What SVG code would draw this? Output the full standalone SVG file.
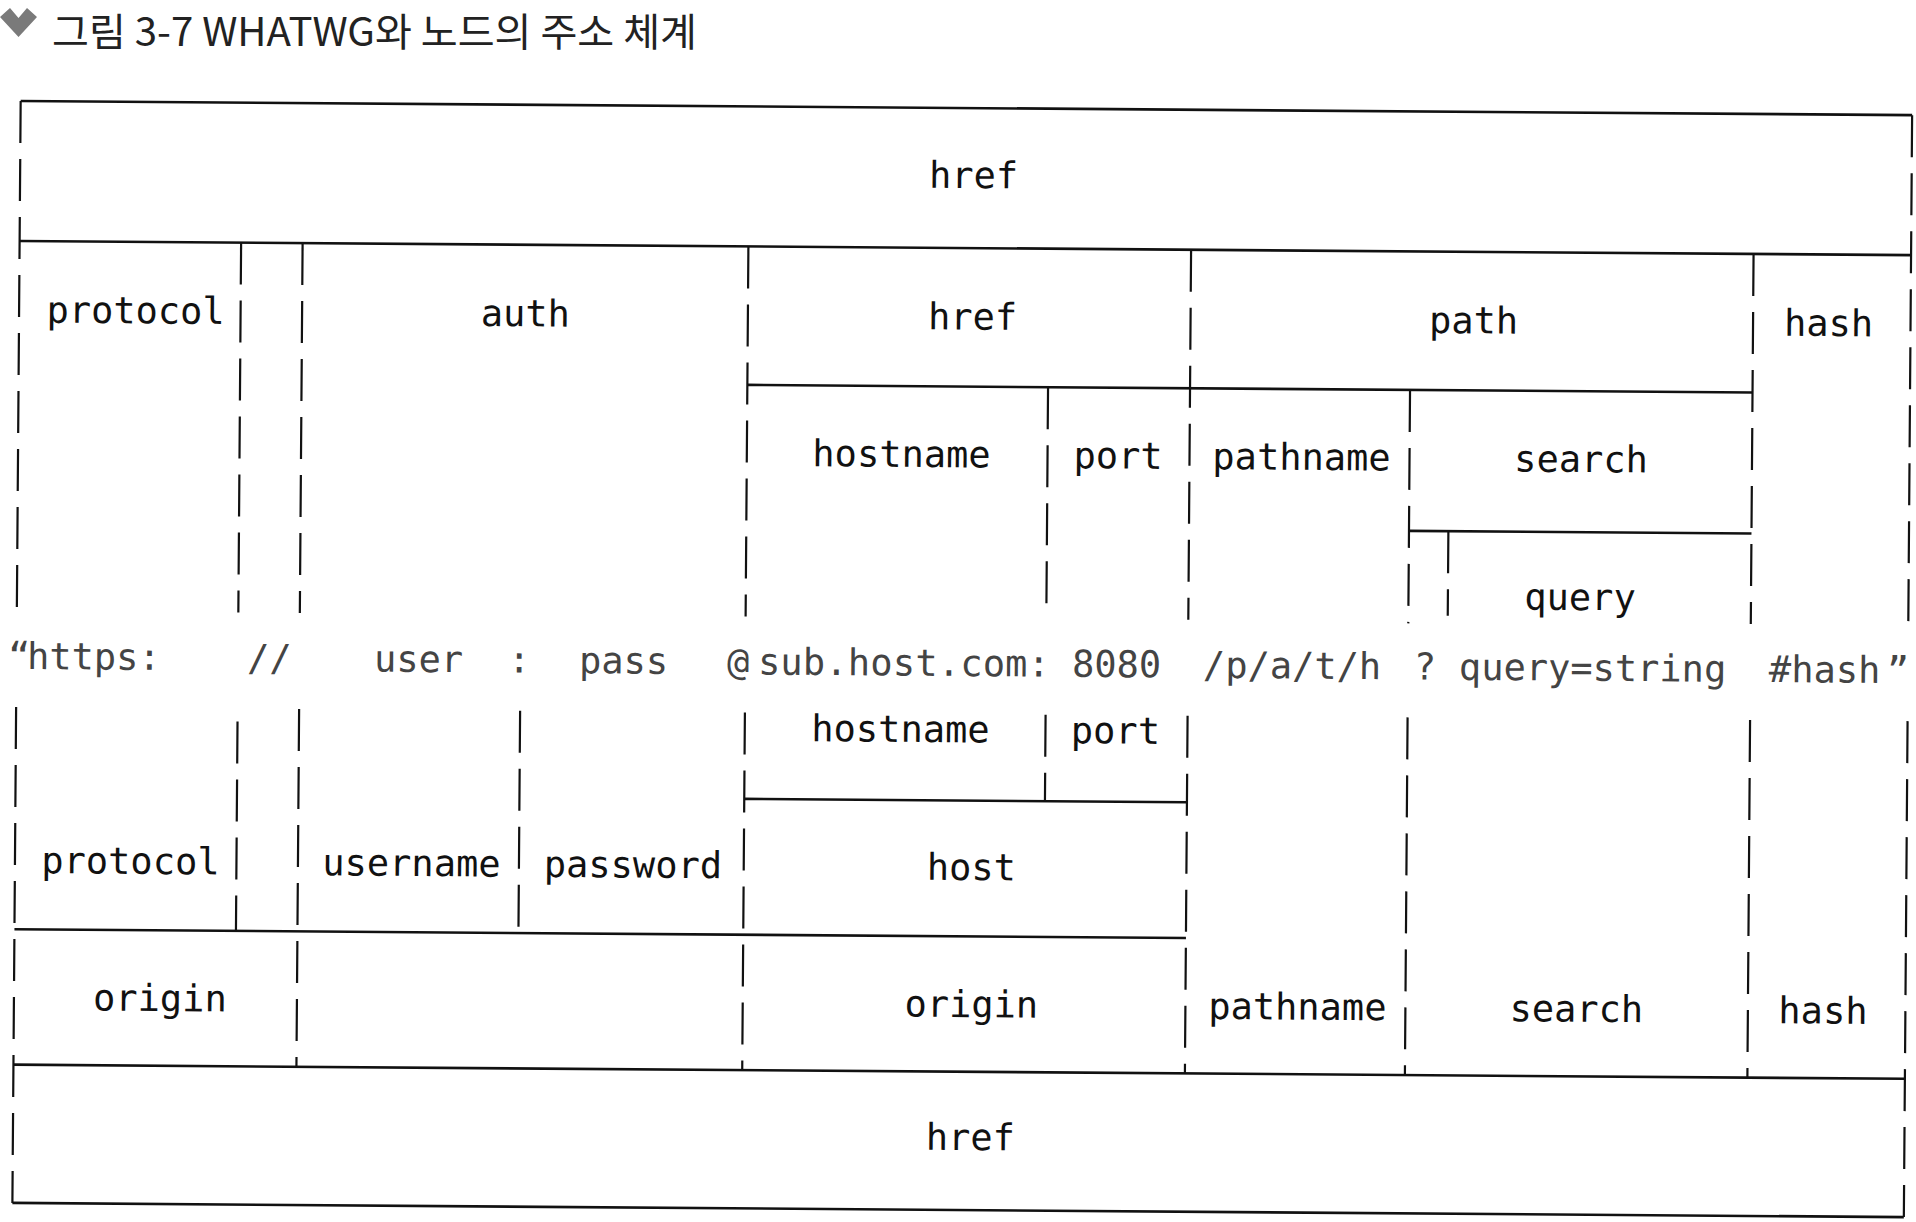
<svg xmlns="http://www.w3.org/2000/svg" width="1916" height="1222" viewBox="0 0 1916 1222">
<style>
.h{stroke:#111;stroke-width:2.6;fill:none}
.v{stroke:#111;stroke-width:2.2;stroke-dasharray:42 16;fill:none}
.lbl{font-family:"DejaVu Sans Mono","Liberation Mono",monospace;font-size:37px;fill:#111;text-anchor:middle}
.url{font-family:"DejaVu Sans Mono","Liberation Mono",monospace;font-size:37px;fill:#444}
.title{font-family:"Noto Sans CJK KR","Noto Sans",sans-serif;font-size:39px;fill:#222}
</style>
<rect width="1916" height="1222" fill="#fff"/>
<g id="title">
<path d="M0,17 L10,8 L18.5,18 L27,8 L37,17 L18.5,37 Z" fill="#7a7a7a"/>
<text class="title" x="52" y="46" textLength="645" lengthAdjust="spacingAndGlyphs">그림 3-7 WHATWG와 노드의 주소 체계</text>
</g>
<g id="diagram" transform="rotate(0.43 958 660)">
<g id="connectors">
<line class="h" x1="16.5" y1="108" x2="1908" y2="108"/>
<line class="h" x1="16.5" y1="248" x2="1908" y2="248"/>
<line class="h" x1="745.3" y1="386.5" x2="1750.5" y2="386.5"/>
<line class="h" x1="1408" y1="527.5" x2="1750.5" y2="527.5"/>
<line class="h" x1="745.3" y1="800.5" x2="1188" y2="800.5"/>
<line class="h" x1="16.5" y1="936.3" x2="1188" y2="936.3"/>
<line class="h" x1="16.5" y1="1071.7" x2="1908" y2="1071.7"/>
<line class="h" x1="16.5" y1="1210" x2="1908" y2="1210"/>
<line class="v" x1="16.5" y1="108" x2="16.5" y2="618"/>
<line class="v" x1="1908" y1="108" x2="1908" y2="618"/>
<line class="v" x1="238" y1="248" x2="238" y2="618"/>
<line class="v" x1="299.5" y1="248" x2="299.5" y2="618"/>
<line class="v" x1="745.3" y1="248" x2="745.3" y2="618"/>
<line class="v" x1="1046" y1="386.5" x2="1046" y2="618"/>
<line class="v" x1="1188" y1="248" x2="1188" y2="618"/>
<line class="v" x1="1408" y1="386.5" x2="1408" y2="620"/>
<line class="v" x1="1447.4" y1="527.5" x2="1447.4" y2="612"/>
<line class="v" x1="1750.5" y1="248" x2="1750.5" y2="618"/>
<line class="v" x1="16.5" y1="714" x2="16.5" y2="1210"/>
<line class="v" x1="238" y1="727" x2="238" y2="936.3"/>
<line class="v" x1="299.5" y1="714" x2="299.5" y2="1071.7"/>
<line class="v" x1="520.5" y1="714" x2="520.5" y2="936.3"/>
<line class="v" x1="745.3" y1="714" x2="745.3" y2="1071.7"/>
<line class="v" x1="1046" y1="714" x2="1046" y2="800.5"/>
<line class="v" x1="1188" y1="714" x2="1188" y2="1071.7"/>
<line class="v" x1="1408" y1="714" x2="1408" y2="1071.7"/>
<line class="v" x1="1750.5" y1="714" x2="1750.5" y2="1071.7"/>
<line class="v" x1="1908" y1="714" x2="1908" y2="1210"/>
</g>
<g id="href-top"><text class="lbl" x="970" y="188">href</text></g>
<g id="protocol-top"><text class="lbl" x="133" y="329.5">protocol</text></g>
<g id="auth"><text class="lbl" x="522.8" y="329.5">auth</text></g>
<g id="href-mid"><text class="lbl" x="970" y="329.5">href</text></g>
<g id="path"><text class="lbl" x="1471" y="329.5">path</text></g>
<g id="hash-top"><text class="lbl" x="1826" y="329.5">hash</text></g>
<g id="hostname-top"><text class="lbl" x="900" y="467.3">hostname</text></g>
<g id="port-top"><text class="lbl" x="1116.5" y="467.3">port</text></g>
<g id="pathname-top"><text class="lbl" x="1300" y="467.3">pathname</text></g>
<g id="search-top"><text class="lbl" x="1579.5" y="467.3">search</text></g>
<g id="query"><text class="lbl" x="1579.6" y="605.3">query</text></g>
<g id="url">
<text class="url" x="8" y="676">“</text>
<text class="url" x="27" y="676">https:</text>
<text class="url" x="247" y="676">//</text>
<text class="url" x="374" y="676">user</text>
<text class="url" x="508" y="676">:</text>
<text class="url" x="579" y="676">pass</text>
<text class="url" x="727" y="676">@</text>
<text class="url" x="758" y="676" textLength="292" lengthAdjust="spacing">sub.host.com:</text>
<text class="url" x="1072" y="676">8080</text>
<text class="url" x="1203" y="676">/p/a/t/h</text>
<text class="url" x="1414" y="676">?</text>
<text class="url" x="1459" y="676">query=string</text>
<text class="url" x="1769" y="676">#hash</text>
<text class="url" x="1887" y="676">”</text>
</g>
<g id="hostname-bottom"><text class="lbl" x="901" y="742.3">hostname</text></g>
<g id="port-bottom"><text class="lbl" x="1116" y="742.3">port</text></g>
<g id="protocol-bottom"><text class="lbl" x="132" y="880">protocol</text></g>
<g id="username"><text class="lbl" x="413" y="880">username</text></g>
<g id="password"><text class="lbl" x="634.5" y="880">password</text></g>
<g id="host"><text class="lbl" x="973" y="880">host</text></g>
<g id="origin-left"><text class="lbl" x="162.5" y="1017">origin</text></g>
<g id="origin-mid"><text class="lbl" x="974" y="1017">origin</text></g>
<g id="pathname-bottom"><text class="lbl" x="1300" y="1017">pathname</text></g>
<g id="search-bottom"><text class="lbl" x="1579" y="1017">search</text></g>
<g id="hash-bottom"><text class="lbl" x="1825.6" y="1017">hash</text></g>
<g id="href-bottom"><text class="lbl" x="974" y="1150">href</text></g>
</g>
</svg>
